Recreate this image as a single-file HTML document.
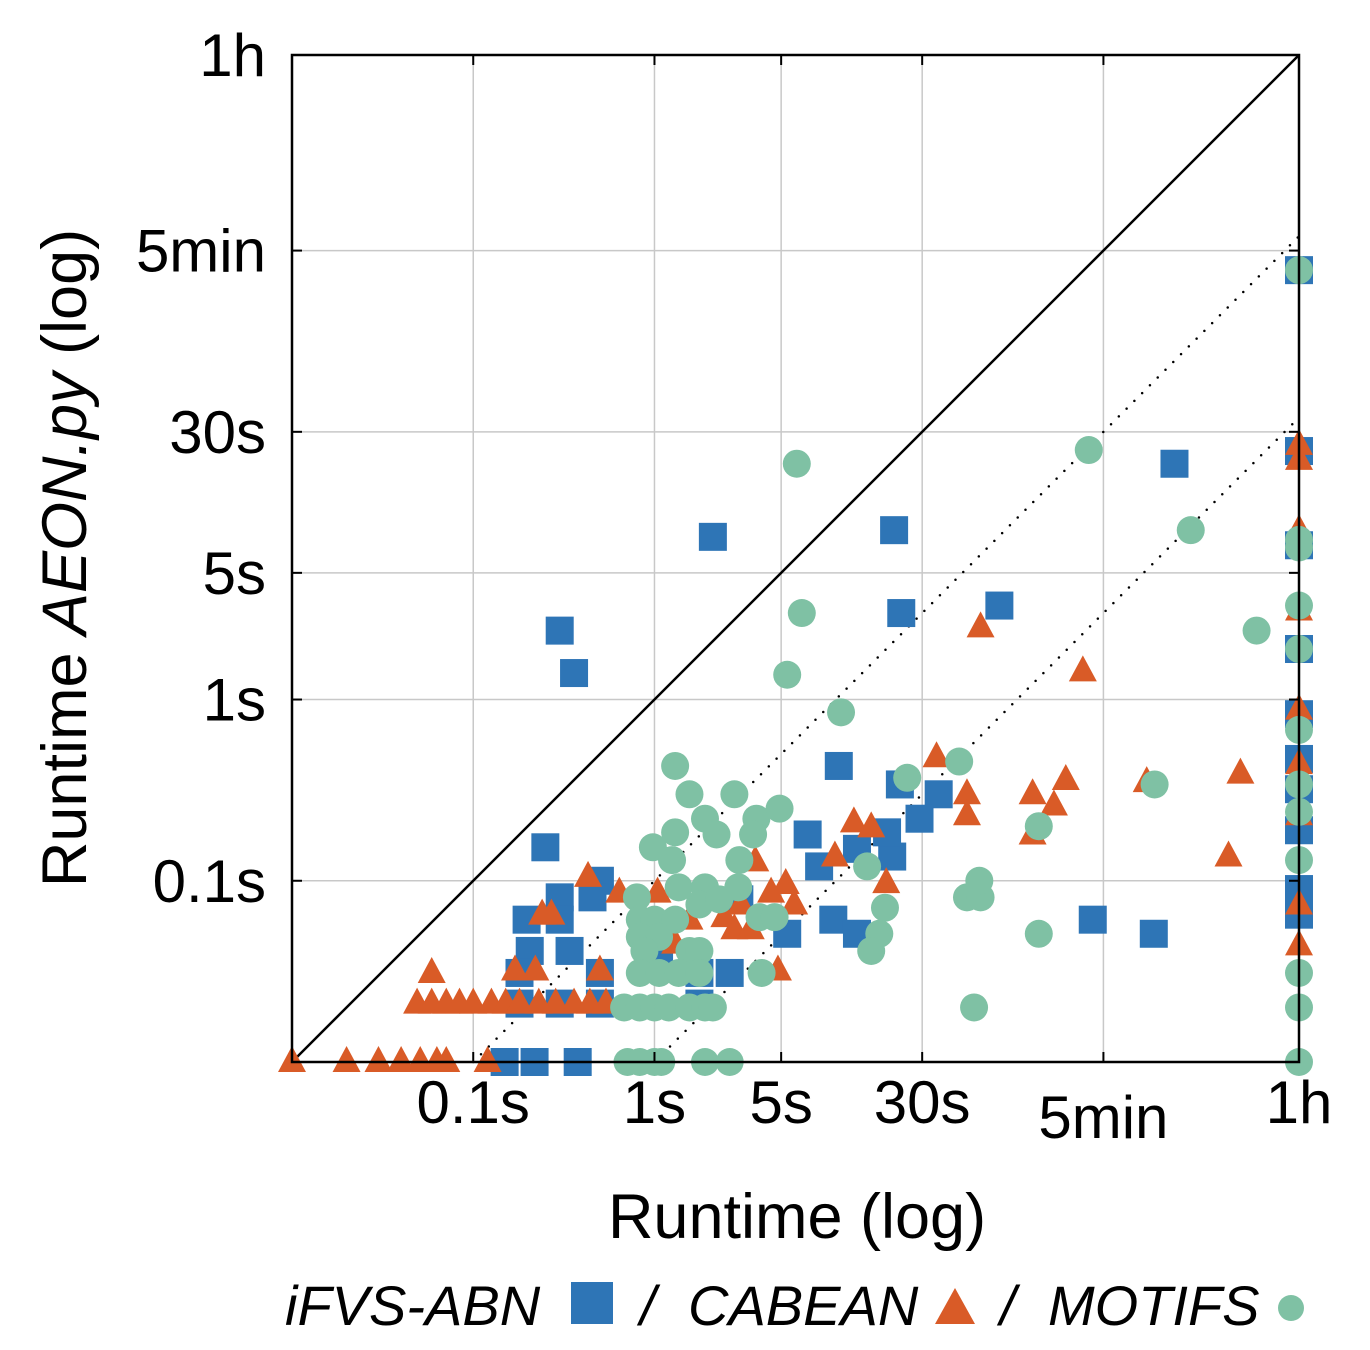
<!DOCTYPE html>
<html><head><meta charset="utf-8">
<style>
html,body{margin:0;padding:0;background:#fff;}
svg{display:block;font-family:"Liberation Sans",sans-serif;}
</style></head>
<body>
<svg id="chart" width="1370" height="1350" viewBox="0 0 1370 1350" xmlns="http://www.w3.org/2000/svg">
<g id="grid"></g>
<g id="refs"></g>
<g id="marks"></g>
<rect x="292" y="55" width="1007" height="1007" fill="none" stroke="#000" stroke-width="2.5"/>
<g id="ticks"></g>
<text x="797" y="1238" font-size="63" text-anchor="middle">Runtime (log)</text>
<text transform="translate(86,558) rotate(-90)" font-size="63" text-anchor="middle">Runtime <tspan font-style="italic">AEON.py</tspan> (log)</text>
<g font-size="56" font-style="italic">
<text x="285" y="1325">iFVS-ABN</text>
<rect x="571" y="1282" width="42" height="42" fill="#2e75b6"/>
<text x="640" y="1325">/</text>
<text x="688" y="1325">CABEAN</text>
<polygon points="955,1288 975,1324 935,1324" fill="#d95b27"/>
<text x="1000" y="1325">/</text>
<text x="1048" y="1325">MOTIFS</text>
<circle cx="1291" cy="1308" r="13" fill="#7fc1a4"/>
</g>
</svg>
<script>
const tickValues = [0.1, 1, 5, 30, 300, 3600];
const tickLabels = ["0.1s", "1s", "5s", "30s", "5min", "1h"];
const ifvsX = [2.1,0.3,0.36,21,23,80,740,3600,3600,3600,3600,3600,3600,3600,3600,3600,3600,0.25,10.4,22.6,37,29,7.0,8.1,13.1,20.5,19.2,9.7,13.1,5.4,262,569,0.5,0.3,0.455,0.197,0.3,0.205,0.34,0.18,0.5,2.6,1.77,0.18,0.3,0.5,0.149,0.218,0.377,1.77,1.06,2.94];
const ifvsY = [7.9,2.4,1.4,8.6,3.0,3.3,20,234,23.5,7.1,1.9,0.83,0.47,0.32,0.19,0.09,0.065,0.153,0.43,0.34,0.30,0.22,0.18,0.12,0.15,0.136,0.185,0.061,0.051,0.051,0.061,0.051,0.10,0.081,0.081,0.061,0.061,0.041,0.041,0.031,0.031,0.031,0.031,0.021,0.021,0.021,0.01,0.01,0.01,0.021,0.037,0.079];
const cabeanX = [0.01,0.02,0.03,0.04,0.051,0.063,0.071,0.12,0.059,0.049,0.059,0.071,0.084,0.10,0.126,0.151,0.18,0.23,0.285,0.36,0.44,0.54,0.17,0.22,0.5,0.24,0.27,0.43,0.64,1.04,1.3,1.56,2.43,2.76,3.4,3.0,3.6,4.4,5.3,5.9,4.8,9.9,12.6,15.7,19,36,53,53,63,122,122,160,186,231,520,1470,1710,3600,3600,3600,3600,3600,3600,3600,3600,3600];
const cabeanY = [0.01,0.01,0.01,0.01,0.01,0.01,0.01,0.01,0.031,0.021,0.021,0.021,0.021,0.021,0.021,0.021,0.021,0.021,0.021,0.021,0.021,0.021,0.032,0.032,0.032,0.065,0.065,0.105,0.086,0.086,0.045,0.061,0.063,0.054,0.054,0.074,0.128,0.086,0.096,0.074,0.032,0.136,0.21,0.197,0.097,0.48,0.30,0.23,2.5,0.30,0.18,0.26,0.36,1.43,0.35,0.136,0.39,25.4,21,8.6,3.1,0.88,0.44,0.23,0.074,0.044];
const motifsX = [6.1,249,910,6.5,5.4,10.7,2100,575,48,24.8,132,53,63,62,132,58,18.7,17.4,15.7,14.9,3.9,3.8,4.6,1.3,1.56,2.76,1.9,2.2,3.65,4.9,3.5,2.94,1.3,0.98,1.25,1.36,1.9,2.9,1.77,2.28,0.80,0.83,1.0,1.3,0.83,1.06,0.88,1.56,1.77,0.83,1.06,1.36,1.77,0.68,0.83,1.0,1.2,1.56,1.9,2.1,0.71,0.83,1.0,1.09,1.9,2.6,3600,3600,3600,3600,3600,3600,3600,3600,3600,3600,3600,3600];
const motifsY = [20,23.8,8.6,3.0,1.37,0.85,2.4,0.34,0.455,0.37,0.20,0.081,0.081,0.10,0.051,0.020,0.071,0.051,0.041,0.12,0.031,0.063,0.063,0.43,0.30,0.30,0.22,0.18,0.22,0.25,0.18,0.13,0.185,0.153,0.13,0.092,0.092,0.092,0.074,0.079,0.081,0.061,0.061,0.061,0.049,0.049,0.041,0.041,0.041,0.031,0.031,0.031,0.031,0.020,0.020,0.020,0.020,0.020,0.020,0.020,0.01,0.01,0.01,0.01,0.01,0.01,234,7.6,6.9,3.3,1.9,0.68,0.34,0.24,0.13,0.031,0.02,0.01];
const refFactors = [10, 100];

const NS = "http://www.w3.org/2000/svg";
const X0 = 292, X1 = 1299, Y0 = 1062, Y1 = 55;
const LMIN = -2, LMAX = Math.log10(3600);
function xs(v){ return X0 + (Math.log10(v) - LMIN) / (LMAX - LMIN) * (X1 - X0); }
function ys(v){ return Y0 - (Math.log10(v) - LMIN) / (LMAX - LMIN) * (Y0 - Y1); }
function mk(tag, attrs, parent){
  const e = document.createElementNS(NS, tag);
  for (const k in attrs) e.setAttribute(k, attrs[k]);
  parent.appendChild(e);
  return e;
}
const grid = document.getElementById('grid');
const ticks = document.getElementById('ticks');
tickValues.forEach((v, i) => {
  const x = xs(v), y = ys(v);
  const gx = mk('line', {x1:x, x2:x, y1:Y1, y2:Y0, stroke:'#c8c8c8', 'stroke-width':1.5}, grid);
  
  
  const gy = mk('line', {x1:X0, x2:X1, y1:y, y2:y, stroke:'#c8c8c8', 'stroke-width':1.5}, grid);
  
  
  [[x,Y0,x,Y0-10],[x,Y1,x,Y1+10],[X0,y,X0+10,y],[X1,y,X1-10,y]].forEach(c => {
    const t = mk('line', {x1:c[0], y1:c[1], x2:c[2], y2:c[3], stroke:'#000', 'stroke-width':2}, ticks);
    
    
  });
  const xl = mk('text', {x:x, y: tickLabels[i] === '5min' ? 1138 : 1123, 'font-size':60, 'text-anchor':'middle'}, ticks);
  xl.textContent = tickLabels[i];
  
  
  const yl = mk('text', {x:266, y:y+21, 'font-size':60, 'text-anchor':'end'}, ticks);
  yl.textContent = tickLabels[i];
  
  
});
const refs = document.getElementById('refs');
const diag = mk('line', {x1:xs(0.01), y1:ys(0.01), x2:xs(3600), y2:ys(3600), stroke:'#000', 'stroke-width':2.5}, refs);


refFactors.forEach(f => {
  const l = mk('line', {x1:xs(0.01*f), y1:ys(0.01), x2:xs(3600), y2:ys(3600/f), stroke:'#000', 'stroke-width':2.5, 'stroke-dasharray':'0 11', 'stroke-linecap':'round'}, refs);
  
  
});
const marks = document.getElementById('marks');
ifvsX.forEach((v, i) => {
  const x = xs(v), y = ys(ifvsY[i]);
  const r = mk('rect', {x:x-14, y:y-14, width:28, height:28, fill:'#2e75b6'}, marks);
  
  
});
cabeanX.forEach((v, i) => {
  const x = xs(v), y = ys(cabeanY[i]);
  const p = mk('polygon', {points:`${x},${y-16} ${x+14},${y+10} ${x-14},${y+10}`, fill:'#d95b27'}, marks);
  
  
});
motifsX.forEach((v, i) => {
  const c = mk('circle', {cx:xs(v), cy:ys(motifsY[i]), r:14, fill:'#7fc1a4'}, marks);
  
  
});
</script>
</body></html>
